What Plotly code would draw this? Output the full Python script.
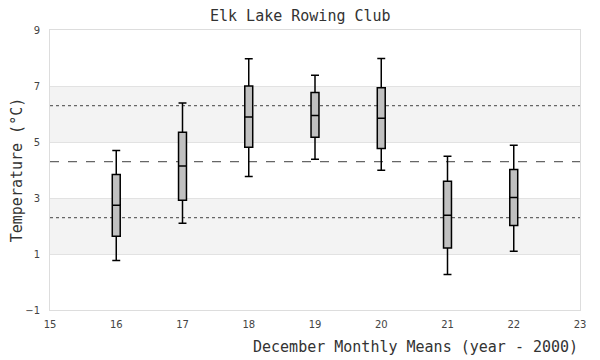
import plotly.graph_objects as go

years = [16, 17, 18, 19, 20, 21, 22]
lower_whisker = [0.77, 2.10, 3.77, 4.38, 3.99, 0.27, 1.10]
q1 = [1.63, 2.92, 4.81, 5.17, 4.77, 1.21, 2.02]
median = [2.74, 4.14, 5.89, 5.95, 5.85, 2.38, 3.02]
q3 = [3.84, 5.35, 7.00, 6.77, 6.94, 3.60, 4.02]
upper_whisker = [4.70, 6.39, 7.97, 7.38, 7.98, 4.49, 4.88]

overall_mean = 4.3
overall_sd = 2.0
bands = [(1, 3), (5, 7)]
y_ticks = [-1, 1, 3, 5, 7, 9]
x_ticks = [15, 16, 17, 18, 19, 20, 21, 22, 23]

mono = "DejaVu Sans Mono"

fig = go.Figure()
fig.add_trace(go.Box(
    x=years, q1=q1, median=median, q3=q3,
    lowerfence=lower_whisker, upperfence=upper_whisker,
    width=0.12, whiskerwidth=1,
    fillcolor="#c0c0c0",
    line=dict(color="black", width=1.5),
    boxpoints=False, showlegend=False, hoverinfo="skip",
))

shapes = []
for lo, hi in bands:
    shapes.append(dict(type="rect", xref="paper", yref="y", x0=0, x1=1, y0=lo, y1=hi,
                       fillcolor="#f3f3f3", line=dict(width=0), layer="below"))
shapes.append(dict(type="line", xref="paper", yref="y", x0=0, x1=1,
                   y0=overall_mean, y1=overall_mean,
                   line=dict(color="#666666", width=1.2, dash="dash"), layer="below"))
for yv in (overall_mean + overall_sd, overall_mean - overall_sd):
    shapes.append(dict(type="line", xref="paper", yref="y", x0=0, x1=1, y0=yv, y1=yv,
                       line=dict(color="#666666", width=1.2, dash="dot"), layer="below"))

fig.update_layout(
    width=592, height=352,
    margin=dict(l=42, r=20, t=22, b=50, autoexpand=False),
    paper_bgcolor="white", plot_bgcolor="white",
    shapes=shapes,
    xaxis=dict(range=[15, 23], tickvals=x_ticks, showgrid=False, zeroline=False,
               automargin=False, ticklabelstandoff=5,
               showline=True, mirror=True, linecolor="#dddddd", linewidth=1,
               ticks="", tickfont=dict(family="DejaVu Sans", size=10, color="#444444")),
    yaxis=dict(range=[-1, 9], tickvals=y_ticks, showgrid=True, gridcolor="#e2e2e2",
               automargin=False, ticklabelstandoff=7,
               zeroline=False, showline=True, mirror=True, linecolor="#dddddd", linewidth=1,
               ticks="", tickfont=dict(family="DejaVu Sans", size=10, color="#444444"),
               title=dict(text="Temperature (°C)", standoff=0,
                          font=dict(family=mono, size=15, color="#333333"))),
    annotations=[
        dict(text="Elk Lake Rowing Club", xref="paper", yref="paper",
             x=0.4717, y=1.05, xanchor="center", yanchor="middle", showarrow=False,
             font=dict(family=mono, size=15, color="#333333")),
        dict(text="December Monthly Means (year - 2000)", xref="paper", yref="paper",
             x=1.0, y=-0.132, xanchor="right", yanchor="middle", showarrow=False,
             font=dict(family=mono, size=15, color="#333333")),
    ],
)

fig.write_html("out.html")
